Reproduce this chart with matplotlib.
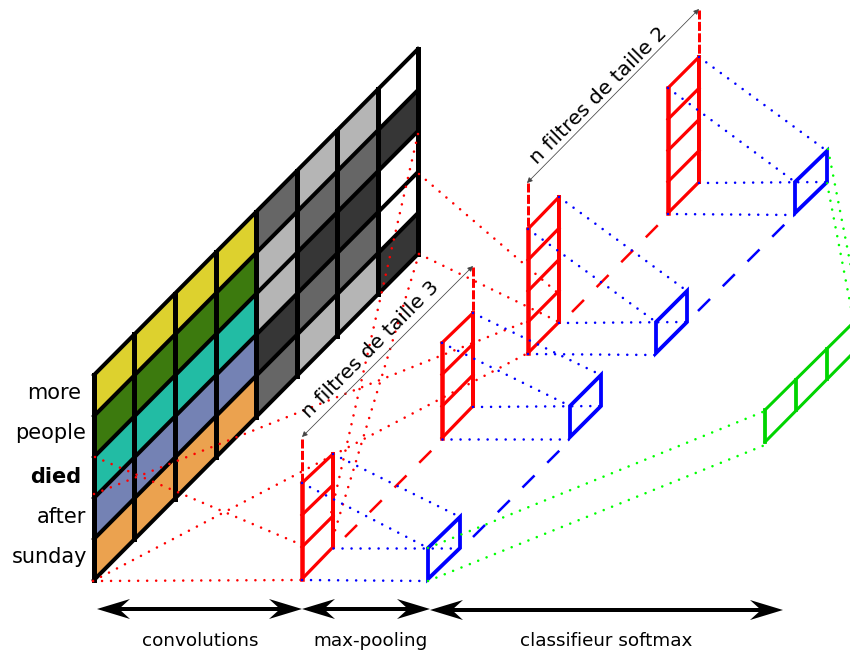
import matplotlib
matplotlib.use("Agg")
import matplotlib.pyplot as plt
from matplotlib.patches import Polygon

W = 850
H = 652

# everything is in picture pixels, y going down
GRID_X = [94, 134.5, 175, 216, 256, 297, 337, 378, 418]
GRID_LEFT_Y = 580
GRID_RIGHT_Y = 254
ROW_H = 41
YELLOW = "#ddd12e"
GREEN = "#3c7a0e"
TEAL = "#22bca4"
BLUE = "#7482b4"
ORANGE = "#eba24f"
G1 = "#b5b5b5"
G2 = "#666666"
G3 = "#363636"
COLS = [
    [YELLOW, GREEN, TEAL, BLUE, ORANGE],
    [YELLOW, GREEN, TEAL, BLUE, ORANGE],
    [YELLOW, GREEN, TEAL, BLUE, ORANGE],
    [YELLOW, GREEN, TEAL, BLUE, ORANGE],
    [G2, G1, G1, G3, G2],
    [G1, G2, G3, G2, G1],
    [G1, G2, G3, G2, G1],
    ["#ffffff", G3, "#ffffff", "#ffffff", G3],
]

WORDS = ["more", "people", "died", "after", "sunday"]
WORD_X = [27, 15, 30, 37, 12]
WORD_Y = [393, 433, 477, 517, 557]

# x left, x right, y bottom left, y bottom right, cell height left, right, cells
FILTERS = [
    (302, 333, 579, 547, 32, 31, 3),
    (442, 473, 438, 406, 31.7, 31, 3),
    (528, 559, 353, 322, 31, 31.25, 4),
    (668, 699, 213, 182, 31.25, 31.25, 4),
]
BOXES = [
    (428, 460, 579, 548, 31),
    (570, 601, 437, 406, 31),
    (656, 687, 353, 322, 31),
    (795, 827, 213, 182, 31),
]
GREEN_X = [765, 796, 827, 858]
GREEN_BOTTOM = [442, 410, 379, 348]
GREEN_TOP = [410, 380, 349, 318]

RED_DASH = [((302, 439), (302, 483)), ((473, 267), (473, 313)),
            ((528, 183), (528, 229)), ((699, 10), (699, 57))]
RED_DIAG = [((345, 537), (433, 449)), ((572, 312), (659, 224))]
BLUE_DIAG = [((473, 537), (561, 449)), ((698, 311), (786, 223))]

RED_DOTS = [
    ((93, 581), (302, 580)),
    ((93, 581), (528, 353)),
    ((94, 494), (528, 321)),
    ((95, 457), (302, 545)),
    ((418, 134), (330, 518)),
    ((419, 254), (330, 547)),
    ((419, 174), (559, 294)),
    ((419, 254), (559, 322)),
]
GREEN_DOTS = [
    ((428, 581), (765, 445)),
    ((428, 548), (765, 411)),
    ((828, 149), (858, 303)),
    ((827, 183), (858, 344)),
]

BIG_ARROWS = [(97, 302, 609), (302, 430, 609), (430, 783, 610)]
THIN_ARROWS = [((302, 437), (473, 266)), ((527, 183), (699, 9))]
TILTED = [("n filtres de taille 3", 371, 350), ("n filtres de taille 2", 599, 96)]
BOTTOM = [("convolutions", 200), ("max-pooling", 371), ("classifieur softmax", 606)]

PX = 72 / 100


def ligne(a, b, color, px, **kw):
    ax.plot([a[0], b[0]], [a[1], b[1]], color=color, lw=px * PX, **kw)


def pointilles(a, b, color):
    ax.plot([a[0], b[0]], [a[1], b[1]], color=color, lw=2.6 * PX,
            ls=(0, (0.01, 3.46)), dash_capstyle="round", zorder=6)


def fleche(xa, xb, y):
    ax.plot([xa + 20, xb - 20], [y, y], color="black", lw=4 * PX, solid_capstyle="butt")
    for tip, s in ((xa, 1), (xb, -1)):
        pts = [(tip, y), (tip + s * 33, y - 10), (tip + s * 22, y), (tip + s * 33, y + 10)]
        ax.add_patch(Polygon(pts, closed=True, fc="black", ec="none", zorder=4))


fig = plt.figure(figsize=(W / 100, H / 100), dpi=100)
ax = fig.add_axes([0, 0, 1, 1])
ax.set_xlim(0, W)
ax.set_ylim(H, 0)
ax.axis("off")

# la matrice
slope = (GRID_LEFT_Y - GRID_RIGHT_Y) / (GRID_X[-1] - GRID_X[0])


def bas(x):
    return GRID_LEFT_Y - slope * (x - GRID_X[0])


for c, col in enumerate(COLS):
    x0, x1 = GRID_X[c], GRID_X[c + 1]
    for r, fill in enumerate(col):
        k = 4 - r
        pts = [(x0, bas(x0) - k * ROW_H), (x1, bas(x1) - k * ROW_H),
               (x1, bas(x1) - (k + 1) * ROW_H), (x0, bas(x0) - (k + 1) * ROW_H)]
        ax.add_patch(Polygon(pts, closed=True, fc=fill, ec="none", zorder=1))

x0, x1 = GRID_X[0], GRID_X[-1]
for r in range(6):
    ligne((x0, bas(x0) - r * ROW_H), (x1, bas(x1) - r * ROW_H), "black", 4, zorder=2,
          solid_capstyle="projecting")
for x in GRID_X:
    ligne((x, bas(x)), (x, bas(x) - 5 * ROW_H), "black", 5, zorder=2,
          solid_capstyle="projecting")

# filtres
for xa, xb, ya, yb, ha, hb, n in FILTERS:
    for i in range(n + 1):
        ligne((xa, ya - i * ha), (xb, yb - i * hb), "#ff0000", 3.2, zorder=3)
    ligne((xa, ya), (xa, ya - n * ha), "#ff0000", 4.5, zorder=3)
    ligne((xb, yb), (xb, yb - n * hb), "#ff0000", 4, zorder=3)

for a, b in RED_DASH:
    ligne(a, b, "#ff0000", 3, ls=(0, (3, 0.8)), dash_capstyle="butt", zorder=3)
for a, b in RED_DIAG:
    ligne(a, b, "#ff0000", 2.5, ls=(0, (6.8, 7.2)), dash_capstyle="butt", zorder=3)
for a, b in BLUE_DIAG:
    ligne(a, b, "#0000ff", 2.5, ls=(0, (6.8, 7.2)), dash_capstyle="butt", zorder=3)

# max-pooling
for xa, xb, ya, yb, h in BOXES:
    pts = [(xa, ya), (xb, yb), (xb, yb - h), (xa, ya - h)]
    ax.add_patch(Polygon(pts, closed=True, fc="none", ec="#0000ff", lw=3.8 * PX, zorder=3))

# softmax
for i in (0, 1, 2, 3):
    ligne((GREEN_X[i], GREEN_BOTTOM[i]), (GREEN_X[i], GREEN_TOP[i]), "#00d400", 3.8, zorder=3)
ligne((GREEN_X[0], GREEN_BOTTOM[0]), (GREEN_X[3], GREEN_BOTTOM[3]), "#00d400", 3, zorder=3)
ligne((GREEN_X[0], GREEN_TOP[0]), (GREEN_X[3], GREEN_TOP[3]), "#00d400", 3, zorder=3)

for a, b in RED_DOTS:
    pointilles(a, b, "#ff0000")
for a, b in GREEN_DOTS:
    pointilles(a, b, "#00ff00")

# pointillés bleus entre filtres et boîtes
for (xa, xb, ya, yb, ha, hb, n), (xc, xd, yc, yd, hbox) in zip(FILTERS, BOXES):
    pointilles((xa, ya + 1), (xc, yc + 2), "#0000ff")
    pointilles((xb, yb + 1), (xd, yd), "#0000ff")
    pointilles((xa, ya - n * ha), (xc, yc - hbox), "#0000ff")
    pointilles((xb, yb - n * hb), (xd, yd - hbox), "#0000ff")

for xa, xb, y in BIG_ARROWS:
    fleche(xa, xb, y)

for a, b in THIN_ARROWS:
    ax.annotate("", xy=b, xytext=a,
                arrowprops=dict(arrowstyle="<|-|>", color="#444444", lw=0.55,
                                mutation_scale=8, shrinkA=0, shrinkB=0), zorder=7)

for word, x, y in zip(WORDS, WORD_X, WORD_Y):
    ax.text(x, y, word, fontsize=15, va="center", ha="left", color="black",
            fontweight="bold" if word == "died" else "normal", zorder=8)

for s, x, y in TILTED:
    ax.text(x, y, s, fontsize=14.7, rotation=45, rotation_mode="anchor",
            ha="center", va="center", color="black", zorder=8)

for s, x in BOTTOM:
    ax.text(x, 641, s, fontsize=13.2, ha="center", va="center", color="black", zorder=8)

fig.savefig("out.png", dpi=100)
